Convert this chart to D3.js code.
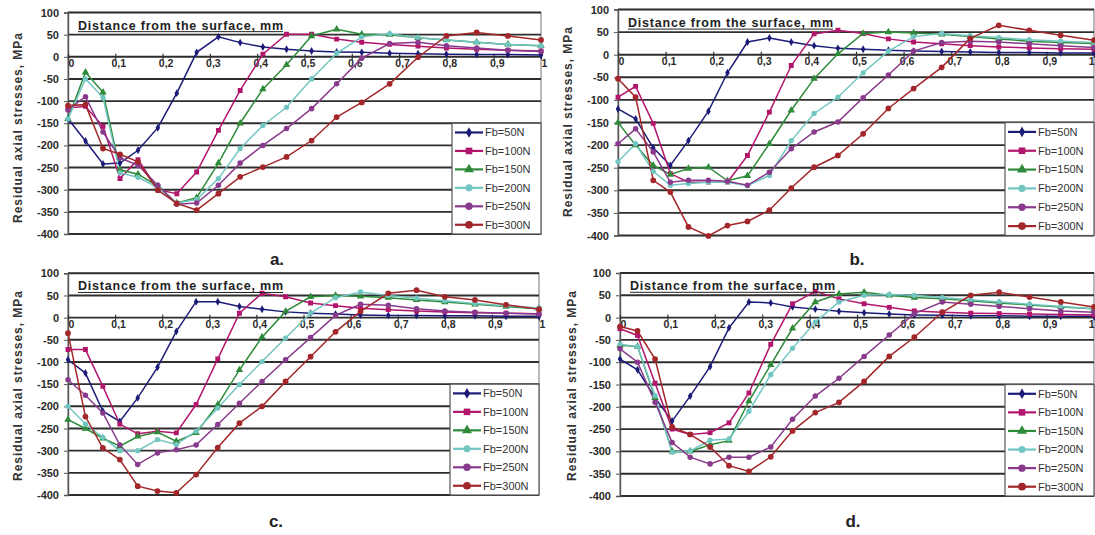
<!DOCTYPE html>
<html><head><meta charset="utf-8">
<script src="https://cdn.jsdelivr.net/npm/d3@7"></script>
<style>
body{margin:0;background:#fff;}
svg{display:block;font-family:Arial,"Liberation Sans",sans-serif;}
</style></head><body>
<svg id="chart" width="1095" height="535"></svg>
<script>
// Measurement depths, mm
const depth = [0, 0.037, 0.074, 0.11, 0.148, 0.19, 0.23, 0.272, 0.318, 0.364, 0.412, 0.462, 0.515, 0.568, 0.621, 0.68, 0.74, 0.8, 0.864, 0.93, 1.0];
const seriesNames = ["Fb=50N", "Fb=100N", "Fb=150N", "Fb=200N", "Fb=250N", "Fb=300N"];
const yTicks = [100, 50, 0, -50, -100, -150, -200, -250, -300, -350, -400];
const xTicks = [0, 0.1, 0.2, 0.3, 0.4, 0.5, 0.6, 0.7, 0.8, 0.9, 1];
const xTickLabels = ["0", "0,1", "0,2", "0,3", "0,4", "0,5", "0,6", "0,7", "0,8", "0,9", "1"];
const panelLabels = ["a.", "b.", "c.", "d."];
const axisTitleY = "Residual axial stresses, MPa";
const axisTitleX = "Distance from the surface, mm";

// Residual axial stresses, MPa — panel a
const a50  = [-140, -190, -242, -240, -211, -160, -82, 10, 45, 32, 22, 17, 13, 11, 10, 8, 7, 6, 5, 5, 4];
const a100 = [-115, -112, -157, -275, -232, -300, -309, -260, -166, -76, 6, 51, 51, 40, 33, 28, 24, 20, 17, 15, 13];
const a150 = [-140, -35, -80, -255, -265, -292, -330, -318, -240, -150, -73, -18, 47, 62, 51, 50, 43, 38, 33, 28, 25];
const a200 = [-140, -50, -92, -262, -272, -295, -330, -322, -275, -207, -155, -114, -50, 8, 45, 52, 43, 38, 33, 28, 25];
const a250 = [-120, -90, -170, -228, -245, -290, -333, -330, -290, -240, -200, -162, -117, -61, -3, 30, 33, 25, 20, 15, 12];
const a300 = [-110, -108, -207, -220, -237, -301, -331, -346, -309, -271, -249, -226, -189, -136, -103, -61, -1, 47, 55, 47, 38];

// panel b
const b50  = [-120, -142, -206, -245, -190, -125, -40, 28, 37, 28, 20, 14, 12, 10, 8, 7, 6, 5, 5, 4, 4];
const b100 = [-94, -70, -152, -263, -282, -282, -282, -223, -127, -24, 46, 54, 47, 35, 28, 24, 20, 17, 15, 13, 12];
const b150 = [-150, -200, -245, -265, -252, -249, -279, -268, -197, -123, -53, 2, 47, 50, 48, 45, 40, 35, 30, 27, 25];
const b200 = [-237, -197, -258, -289, -285, -282, -282, -290, -267, -190, -130, -94, -40, 8, 40, 47, 42, 38, 33, 30, 27];
const b250 = [-197, -164, -215, -282, -278, -278, -280, -289, -260, -208, -171, -149, -95, -45, 8, 27, 30, 28, 24, 20, 16];
const b300 = [-53, -94, -278, -304, -381, -401, -378, -369, -344, -295, -249, -223, -175, -119, -75, -28, 36, 65, 54, 43, 32];

// panel c
const c50  = [-95, -125, -211, -234, -181, -112, -31, 36, 36, 25, 19, 13, 10, 8, 6, 5, 5, 4, 4, 3, 3];
const c100 = [-72, -72, -155, -240, -262, -256, -260, -196, -93, 10, 55, 47, 33, 27, 21, 18, 15, 13, 11, 10, 9];
const c150 = [-230, -250, -272, -290, -268, -258, -279, -260, -196, -118, -44, 14, 47, 50, 48, 45, 40, 35, 30, 25, 20];
const c200 = [-200, -240, -270, -300, -300, -275, -286, -256, -204, -151, -99, -46, 10, 45, 58, 50, 44, 38, 32, 27, 22];
const c250 = [-140, -175, -215, -287, -331, -305, -298, -287, -241, -193, -144, -95, -45, 5, 30, 28, 20, 15, 12, 10, 8];
const c300 = [-35, -223, -294, -320, -380, -391, -395, -354, -293, -238, -200, -144, -88, -32, 14, 55, 62, 47, 40, 29, 19];

// panel d
const d50  = [-93, -117, -180, -232, -176, -110, -23, 35, 33, 24, 19, 14, 11, 8, 6, 5, 4, 4, 3, 3, 3];
const d100 = [-25, -40, -147, -250, -262, -258, -236, -169, -60, 31, 59, 42, 31, 23, 15, 12, 10, 9, 8, 7, 6];
const d150 = [-62, -65, -180, -300, -300, -285, -276, -187, -106, -24, 35, 53, 57, 50, 45, 42, 38, 33, 28, 24, 20];
const d200 = [-60, -65, -175, -302, -299, -275, -272, -210, -128, -69, -10, 35, 50, 52, 50, 45, 40, 35, 30, 25, 20];
const d250 = [-70, -100, -190, -280, -313, -328, -313, -313, -290, -228, -176, -136, -87, -39, 9, 35, 30, 25, 20, 15, 12];
const d300 = [-20, -30, -93, -245, -262, -290, -332, -345, -312, -254, -213, -190, -143, -87, -44, 12, 50, 57, 46, 35, 24];

const panelSeries = [
  [a50, a100, a150, a200, a250, a300],
  [b50, b100, b150, b200, b250, b300],
  [c50, c100, c150, c200, c250, c300],
  [d50, d100, d150, d200, d250, d300]
];

// series styling
const colors = ["#1c1c78", "#b2166c", "#2f8a3a", "#72c6c2", "#8a3a8c", "#a3262a"];
const markerTypes = [d3.symbolDiamond, d3.symbolSquare, d3.symbolTriangle, d3.symbolCircle, d3.symbolCircle, d3.symbolCircle];
const markerSizes = [18, 24, 24, 22, 24, 26];

// plot-area boxes for the four panels
const boxes = [
  {left: 68,  right: 541,  top: 12.5, bottom: 234,   titleY: [18, 128],  label: [277, 265]},
  {left: 618, right: 1094, top: 9.5,  bottom: 235.5, titleY: [568, 122], label: [857, 265]},
  {left: 68,  right: 539,  top: 273.3, bottom: 495,  titleY: [18, 386],  label: [276, 527]},
  {left: 620, right: 1094, top: 273,  bottom: 496,   titleY: [572, 386], label: [853, 527]}
];

const svg = d3.select("#chart");

boxes.forEach((b, pi) => {
  const x = d3.scaleLinear().domain([0, 1]).range([b.left, b.right]);
  const y = d3.scaleLinear().domain([-400, 100]).range([b.bottom, b.top]);
  const g = svg.append("g");

  // plot area
  g.append("rect").attr("x", b.left).attr("y", b.top)
    .attr("width", b.right - b.left).attr("height", b.bottom - b.top)
    .attr("fill", "#fff").attr("stroke", "#8a8a8a").attr("stroke-width", 1.2);

  // horizontal gridlines
  g.append("g").selectAll("line").data(yTicks).join("line")
    .attr("x1", b.left).attr("x2", b.right)
    .attr("y1", d => y(d)).attr("y2", d => y(d))
    .attr("stroke", "#2e2e2e").attr("stroke-width", 1.9);

  // value axis with labels
  const yAxis = d3.axisLeft(y).tickValues(yTicks).tickSize(4).tickFormat(d3.format("d"));
  const ya = g.append("g").attr("transform", `translate(${b.left},0)`).call(yAxis);
  ya.select(".domain").attr("stroke", "#555").attr("stroke-width", 1.4);
  ya.selectAll(".tick line").attr("stroke", "#555");
  ya.selectAll(".tick text").attr("font-size", 11).attr("font-weight", "bold")
    .attr("fill", "#2a2a2a").attr("dx", -2)
    .text(d => d < 0 ? "-" + Math.abs(d) : d);

  // depth axis along the zero line
  const xAxis = d3.axisBottom(x).tickValues(xTicks).tickSize(4)
    .tickFormat((d, i) => xTickLabels[i]);
  const xa = g.append("g").attr("transform", `translate(0,${y(0)})`).call(xAxis);
  xa.select(".domain").remove();
  xa.selectAll(".tick line").attr("stroke", "#333").attr("stroke-width", 1.2)
    .attr("y1", -3).attr("y2", 3);
  xa.selectAll(".tick text").attr("font-size", 10.5).attr("font-weight", "bold")
    .attr("fill", "#2a2a2a").attr("dx", 3).attr("dy", "0.35em");
  // keep the last label inside the window on the right-hand panels
  if (b.right > 1080) {
    xa.selectAll(".tick text").filter(d => d === 1)
      .attr("text-anchor", "end").attr("dx", 0);
  }

  // series lines and markers
  const line = d3.line().x((d, i) => x(depth[i])).y(d => y(d));
  const clipId = "clip" + pi;
  svg.append("clipPath").attr("id", clipId).append("rect")
    .attr("x", b.left - 4).attr("y", b.top - 4)
    .attr("width", b.right - b.left + 8).attr("height", b.bottom - b.top + 8);
  const sg = g.append("g").attr("clip-path", `url(#${clipId})`);
  panelSeries[pi].forEach((vals, si) => {
    sg.append("path").datum(vals).attr("d", line)
      .attr("fill", "none").attr("stroke", colors[si]).attr("stroke-width", 1.5);
  });
  panelSeries[pi].forEach((vals, si) => {
    const sym = d3.symbol().type(markerTypes[si]).size(markerSizes[si]);
    sg.append("g").selectAll("path").data(vals).join("path")
      .attr("d", sym)
      .attr("transform", (d, i) => `translate(${x(depth[i])},${y(d)})`)
      .attr("fill", colors[si]);
  });

  // depth axis title inside the plot, with a drawn underline
  const tx = b.left + 10, ty = y(50) - 5, tw = 205;
  g.append("text").attr("x", tx).attr("y", ty)
    .attr("font-size", 12.5).attr("font-weight", "bold").attr("fill", "#222")
    .attr("textLength", tw).attr("lengthAdjust", "spacing")
    .text(axisTitleX);
  g.append("line").attr("x1", tx).attr("x2", tx + tw)
    .attr("y1", ty + 2).attr("y2", ty + 2)
    .attr("stroke", "#222").attr("stroke-width", 1);

  // stress axis title
  g.append("text")
    .attr("transform", `translate(${b.titleY[0]},${b.titleY[1]}) rotate(-90)`)
    .attr("text-anchor", "middle").attr("dy", "0.35em")
    .attr("font-size", 12).attr("font-weight", "bold").attr("fill", "#333")
    .attr("textLength", 190).attr("lengthAdjust", "spacing")
    .text(axisTitleY);

  // legend
  const lw = 89, lx = b.right - lw, ly = y(-150), lh = y(-400) - y(-150);
  const lg = g.append("g");
  lg.append("rect").attr("x", lx).attr("y", ly).attr("width", lw).attr("height", lh)
    .attr("fill", "#fff").attr("stroke", "#555").attr("stroke-width", 1.2);
  const rowH = lh / 6;
  seriesNames.forEach((name, si) => {
    const cy = ly + rowH * (si + 0.5);
    lg.append("line").attr("x1", lx + 3).attr("x2", lx + 31).attr("y1", cy).attr("y2", cy)
      .attr("stroke", colors[si]).attr("stroke-width", 2.2);
    lg.append("path").attr("d", d3.symbol().type(markerTypes[si]).size(markerSizes[si] * 1.8))
      .attr("transform", `translate(${lx + 17},${cy})`).attr("fill", colors[si]);
    lg.append("text").attr("x", lx + 33).attr("y", cy).attr("dy", "0.35em")
      .attr("font-size", 11).attr("fill", "#333").text(name);
  });

  // panel label
  g.append("text").attr("x", b.label[0]).attr("y", b.label[1])
    .attr("text-anchor", "middle").attr("font-size", 17).attr("font-weight", "bold")
    .attr("fill", "#222").text(panelLabels[pi]);
});
</script>
</body></html>
